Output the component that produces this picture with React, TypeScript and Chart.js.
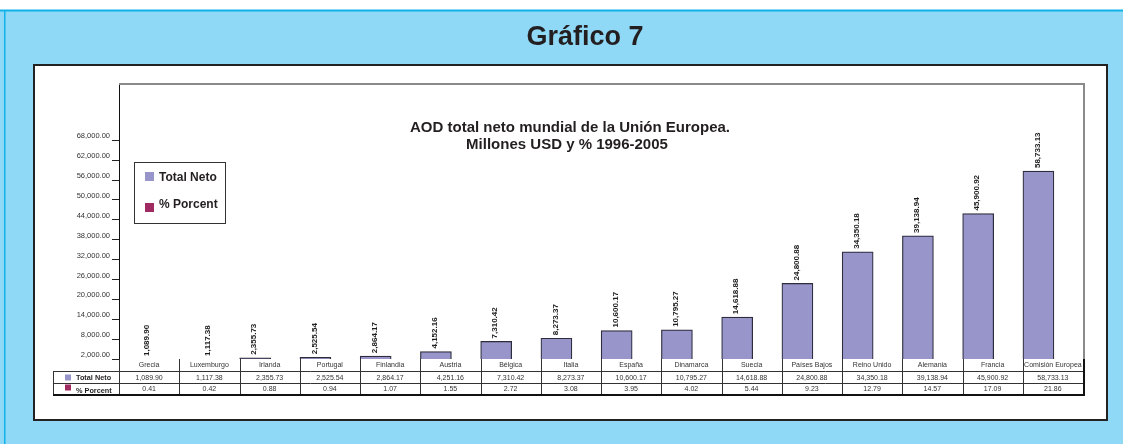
import React, { useEffect, useRef } from "react";
import { Chart, registerables } from "chart.js";

Chart.register(...registerables);

// ---------- data ----------
const pageTitle = "Gráfico 7";
const chartTitle = ["AOD total neto mundial de la Unión Europea.", "Millones USD y % 1996-2005"];
const seriesNames = ["Total Neto", "% Porcent"];
const categories = [
  "Grecia", "Luxemburgo", "Irlanda", "Portugal", "Finlandia", "Austria", "Bélgica", "Italia",
  "España", "Dinamarca", "Suecia", "Países Bajos", "Reino Unido", "Alemania", "Francia", "Comisión Europea",
];
const totalNeto = [
  1089.9, 1117.38, 2355.73, 2525.54, 2864.17, 4251.16, 7310.42, 8273.37,
  10600.17, 10795.27, 14618.88, 24800.88, 34350.18, 39138.94, 45900.92, 58733.13,
];
const porcent = [0.41, 0.42, 0.88, 0.94, 1.07, 1.55, 2.72, 3.08, 3.95, 4.02, 5.44, 9.23, 12.79, 14.57, 17.09, 21.86];
// labels printed above the bars (as they appear in the source)
const barLabels = [
  "1,089.90", "1,117.38", "2,355.73", "2,525.54", "2,864.17", "4,152.16", "7,310.42", "8,273.37",
  "10,600.17", "10,795.27", "14,618.88", "24,800.88", "34,350.18", "39,138.94", "45,900.92", "58,733.13",
];
const yTicks = [2000, 8000, 14000, 20000, 26000, 32000, 38000, 44000, 50000, 56000, 62000, 68000];
const yMin = 2000;
const yMax = 85000;

// ---------- styles ----------
const FONT = "'Liberation Sans', Arial, Helvetica, sans-serif";
const barColor = "#9795c9";
const pctColor = "#a02b62";
const skyColor = "#8fd8f6";
const lineCyan = "#11b2ea";

const fmt2 = (v: number) =>
  v.toLocaleString("en-US", { minimumFractionDigits: 2, maximumFractionDigits: 2 });

const decorPlugin = {
  id: "decor",
  beforeDraw(chart: any) {
    const ctx = chart.ctx as CanvasRenderingContext2D;
    const W = chart.width, H = chart.height;
    ctx.save();
    ctx.fillStyle = "#ffffff";
    ctx.fillRect(0, 0, W, H);
    ctx.fillStyle = skyColor;
    ctx.fillRect(0, 10, W, H - 10);
    ctx.fillStyle = lineCyan;
    ctx.fillRect(0, 9.5, W, 2);
    ctx.fillRect(4, 10, 1.5, H - 10);
    // page title
    ctx.fillStyle = "#231f20";
    ctx.font = `bold 27px ${FONT}`;
    ctx.textAlign = "center";
    ctx.textBaseline = "alphabetic";
    ctx.fillText(pageTitle, 585, 45);
    // white panel
    ctx.fillStyle = "#ffffff";
    ctx.fillRect(34, 65, 1073, 355);
    ctx.strokeStyle = "#222";
    ctx.lineWidth = 2;
    ctx.strokeRect(34, 65, 1073, 355);
    ctx.restore();
  },
  afterDraw(chart: any) {
    const ctx = chart.ctx as CanvasRenderingContext2D;
    const area = chart.chartArea;
    const n = categories.length;
    const colW = (area.right - area.left) / n;
    const colCenter = (i: number) => area.left + (i + 0.5) * colW;
    ctx.save();

    // plot frame (top / right)
    ctx.strokeStyle = "#8a8a8a";
    ctx.lineWidth = 2;
    ctx.beginPath();
    ctx.moveTo(area.left, area.top);
    ctx.lineTo(area.right + 1, area.top);
    ctx.lineTo(area.right + 1, area.bottom);
    ctx.stroke();

    // value labels
    const meta = chart.getDatasetMeta(0);
    ctx.fillStyle = "#1d1d1d";
    ctx.font = `bold 8px ${FONT}`;
    ctx.textAlign = "left";
    ctx.textBaseline = "middle";
    meta.data.forEach((el: any, i: number) => {
      const below = el.y > area.bottom;
      const y = Math.min(el.y, area.bottom) - 3;
      const x = below ? colCenter(i) - 2 : el.x - 1;
      ctx.save();
      ctx.translate(x, y);
      ctx.rotate(-Math.PI / 2);
      ctx.fillText(barLabels[i], 0, 0);
      ctx.restore();
    });

    // chart title
    ctx.fillStyle = "#231f20";
    ctx.font = `bold 15px ${FONT}`;
    ctx.textAlign = "center";
    ctx.fillText(chartTitle[0], 570, 127.5);
    ctx.fillText(chartTitle[1], 567, 145);

    // legend box
    ctx.strokeStyle = "#333";
    ctx.lineWidth = 1;
    ctx.strokeRect(134.5, 162.5, 91, 61);
    ctx.fillStyle = barColor;
    ctx.fillRect(145, 172, 9, 9);
    ctx.fillStyle = pctColor;
    ctx.fillRect(145, 203, 9, 9);
    ctx.fillStyle = "#231f20";
    ctx.font = `bold 12px ${FONT}`;
    ctx.textAlign = "left";
    ctx.fillText(seriesNames[0], 159, 177.5);
    ctx.fillText(seriesNames[1], 159, 204.5);

    // data table
    const yTop = area.bottom;
    const r1 = yTop + 12.5;
    const r2 = r1 + 12;
    const r3 = r2 + 11.5;
    const hdrL = 53;
    ctx.strokeStyle = "#333";
    ctx.lineWidth = 1;
    ctx.beginPath();
    ctx.moveTo(hdrL, r1); ctx.lineTo(area.right, r1);
    ctx.moveTo(hdrL, r2); ctx.lineTo(area.right, r2);
    ctx.moveTo(hdrL + 0.5, r1); ctx.lineTo(hdrL + 0.5, r3);
    ctx.moveTo(area.left + 0.5, yTop); ctx.lineTo(area.left + 0.5, r3);
    for (let i = 1; i < n; i++) {
      const x = Math.round(area.left + i * colW) + 0.5;
      ctx.moveTo(x, yTop); ctx.lineTo(x, r3);
    }
    ctx.stroke();
    ctx.strokeStyle = "#111";
    ctx.lineWidth = 2;
    ctx.beginPath();
    ctx.moveTo(hdrL, r3); ctx.lineTo(area.right + 2, r3);
    ctx.moveTo(area.right + 1, yTop); ctx.lineTo(area.right + 1, r3);
    ctx.stroke();

    ctx.fillStyle = "#333";
    ctx.font = `7px ${FONT}`;
    ctx.textAlign = "center";
    ctx.textBaseline = "middle";
    for (let i = 0; i < n; i++) {
      const cx = colCenter(i);
      ctx.fillText(categories[i], cx, yTop + 6.5);
      ctx.fillText(fmt2(totalNeto[i]), cx, r1 + 6.2);
      ctx.fillText(porcent[i].toFixed(2), cx, r2 + 6);
    }
    // header cells
    ctx.fillStyle = barColor;
    ctx.fillRect(65, r1 + 3, 6, 6);
    ctx.fillStyle = pctColor;
    ctx.fillRect(65, r2 + 1, 6, 6);
    ctx.fillStyle = "#231f20";
    ctx.font = `bold 7.3px ${FONT}`;
    ctx.textAlign = "left";
    ctx.fillText(seriesNames[0], 76, r1 + 6.5);
    ctx.fillText(seriesNames[1], 76, r2 + 7.5);
    ctx.restore();
  },
};

export default function App() {
  const ref = useRef<HTMLCanvasElement>(null);
  useEffect(() => {
    if (!ref.current) return;
    const chart = new Chart(ref.current, {
      type: "bar",
      data: {
        datasets: [
          {
            label: seriesNames[0],
            data: totalNeto.map((v, i) => ({ x: i, y: v })),
            backgroundColor: barColor,
            borderColor: "#2c2c3c",
            borderWidth: 1.2,
            barThickness: 31,
          },
        ],
      },
      options: {
        responsive: false,
        maintainAspectRatio: false,
        animation: false,
        devicePixelRatio: 1,
        layout: { padding: { left: 39, top: 84, right: 40, bottom: 85 } },
        plugins: { legend: { display: false }, tooltip: { enabled: false }, title: { display: false } },
        scales: {
          x: {
            type: "linear",
            min: -0.26,
            max: 15.74,
            offset: false,
            bounds: "data",
            grid: { offset: false },
            display: false,
          },
          y: {
            min: yMin,
            max: yMax,
            afterBuildTicks: (scale: any) => {
              scale.ticks = yTicks.map((v) => ({ value: v }));
            },
            afterFit: (scale: any) => {
              scale.width = 80;
            },
            ticks: {
              callback: (v: any) => fmt2(Number(v)),
              font: { family: FONT, size: 7.5 },
              color: "#333",
              padding: 2,
              labelOffset: -4,
            },
            grid: { drawOnChartArea: false, drawTicks: true, tickLength: 7, color: "#222", tickColor: "#222" },
            border: { display: true, color: "#111", width: 1 },
          },
        },
      },
      plugins: [decorPlugin],
    });
    return () => chart.destroy();
  }, []);
  return (
    <div style={{ position: "absolute", left: 0, top: 0, width: 1123, height: 444 }}>
      <canvas ref={ref} width={1123} height={444} style={{ display: "block" }} />
    </div>
  );
}
